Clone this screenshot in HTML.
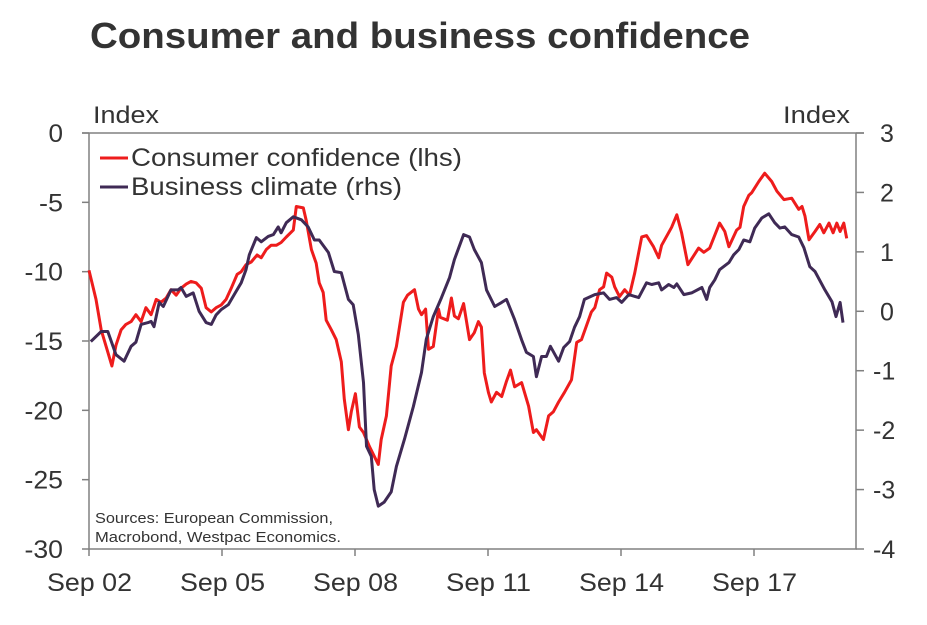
<!DOCTYPE html>
<html><head><meta charset="utf-8"><style>
body{margin:0;background:#fff;}
svg{display:block;font-family:"Liberation Sans",Arial,sans-serif;}
</style></head><body>
<svg id="chart" width="927" height="625" viewBox="0 0 927 625">
<text x="90" y="48" font-size="36" font-weight="bold" fill="#333" textLength="660" lengthAdjust="spacingAndGlyphs">Consumer and business confidence</text>
<text x="93" y="123" font-size="24" fill="#333" textLength="66" lengthAdjust="spacingAndGlyphs">Index</text>
<text x="783" y="123" font-size="24" fill="#333" textLength="67" lengthAdjust="spacingAndGlyphs">Index</text>
<g id="axes"></g>
<g id="series"></g>
<g>
<line x1="100" y1="158" x2="128" y2="158" stroke="#ee1c1c" stroke-width="3"/>
<text x="131" y="166" font-size="25" fill="#333" textLength="331" lengthAdjust="spacingAndGlyphs">Consumer confidence (lhs)</text>
<line x1="100" y1="187" x2="128" y2="187" stroke="#3f2a55" stroke-width="3"/>
<text x="131" y="195" font-size="25" fill="#333" textLength="271" lengthAdjust="spacingAndGlyphs">Business climate (rhs)</text>
</g>
<text font-size="15" fill="#333"><tspan x="95" y="523" textLength="238" lengthAdjust="spacingAndGlyphs">Sources: European Commission,</tspan><tspan x="95" y="542" textLength="246" lengthAdjust="spacingAndGlyphs">Macrobond, Westpac Economics.</tspan></text>
</svg>
<script>
// months since Sep 2002
const consumerMonths=[0,1.9,3.3,5.1,6.2,7.3,8.7,10,11.4,12.7,14.1,15.4,16.8,18.2,19.5,20.9,22.2,23.6,24.9,26.3,27.6,29,30.4,31.7,33.1,34.4,35.8,37.1,38.5,40.1,41.2,42.5,43.9,45.5,46.6,48,49.3,50.7,52,53.4,55.3,56.1,58,58.8,60.2,61.5,62.3,63.4,64.2,65.6,66.9,68.3,69.1,70.2,71,72.1,73.2,74.3,75.9,78.3,79.1,80.5,81.8,83.2,85.1,86.2,88.1,89.2,90,91.1,91.9,93.2,94.6,95.1,97,98.1,98.9,100,101.4,103,104.3,105.4,106.2,107,108.1,108.9,110.3,111.7,113,114.1,115.2,117.1,119,120.3,121.1,123,124.4,125.7,127.1,128.7,130.6,132,133.3,136,136.9,138.2,139.3,140.1,141.5,142.3,143.6,145,146.3,147.7,149.6,150.9,152.8,154.2,155,157.7,159.1,160.4,162.1,165,166.4,168,170.7,172.1,173.2,175.3,176.2,177.2,178.6,179.4,181.3,182.9,184.8,186.2,188.1,190.2,192.1,193,193.8,194.9,196.5,197.8,198.9,200.3,201.4,202.4,203.3,204.3,205.1];
const consumerValues=[-9.9,-12,-14.2,-15.8,-16.8,-15.3,-14.2,-13.8,-13.6,-13.1,-13.6,-12.6,-13.1,-12,-12.2,-11.9,-11.3,-11.7,-11.2,-10.9,-10.7,-10.8,-11.2,-12.6,-12.9,-12.6,-12.4,-12,-11.2,-10.2,-10,-9.5,-9.3,-8.8,-9,-8.4,-8.1,-8.1,-7.9,-7.5,-7,-5.3,-5.4,-6.3,-8.4,-9.4,-10.8,-11.5,-13.5,-14.2,-14.9,-16.5,-19.2,-21.4,-20.1,-18.8,-21.2,-21.6,-22.6,-23.9,-22.1,-20.4,-16.8,-15.4,-12.2,-11.7,-11.3,-12.7,-13.1,-12.7,-15.6,-15.4,-12.7,-13.3,-13.5,-11.9,-13.2,-13.4,-12.3,-14.9,-14.4,-13.6,-14,-17.3,-18.7,-19.4,-18.7,-19,-17.9,-17.1,-18.3,-18,-19.7,-21.6,-21.4,-22.1,-20.4,-20.1,-19.4,-18.7,-17.8,-15.1,-14.9,-12.9,-12.6,-11.3,-11.1,-10.1,-10.4,-11.1,-11.8,-11.3,-11.7,-10.1,-7.5,-7.4,-8.2,-9,-8.1,-6.8,-5.9,-7.2,-9.5,-8.3,-8.6,-8.3,-6.5,-7.1,-8.2,-7,-6.8,-5.3,-4.5,-4.3,-3.5,-2.9,-3.5,-4.2,-4.8,-4.7,-5.5,-5.3,-6,-7.7,-7.1,-6.6,-7.2,-6.5,-7.2,-6.5,-7.1,-6.5,-7.6];
const businessMonths=[0.5,3.3,5.1,6.5,7.3,9.5,11.4,12.7,14.1,16,16.8,17.6,19,20.1,22.2,24.1,24.9,26.3,28.2,29.8,31.7,33.1,34.4,35.8,37.7,39.3,41.2,42.5,43.4,45.3,46.6,48.5,49.9,51.2,52,53.4,55.3,57.5,59.3,61,62.3,64.8,66.4,68.3,70.2,71.5,72.9,74.3,75.1,76.4,77.2,78.3,79.9,81.8,83.2,85.4,87.8,90,91.3,93.2,95.4,97.6,98.9,101.4,103,104.3,106.2,107.6,109.8,111.7,113,115.2,117.1,118.4,120.3,121.1,122.5,123.8,124.9,127.1,128.5,130.1,131.4,132.8,134.1,136.9,139.3,140.9,142.8,144.2,146.1,148.8,150.9,152.3,154.2,155,156.9,158.3,159.1,161,163.1,165.9,167.2,168,169.4,170.7,173.2,174.5,175.9,177.2,178.9,180.2,182.1,184,185.6,187,188.3,190.2,192.1,193.5,195.1,196.5,199.2,201.1,202.2,203.3,204.1];
const businessValues=[-0.51,-0.34,-0.34,-0.59,-0.73,-0.84,-0.59,-0.52,-0.22,-0.19,-0.17,-0.26,0.15,0.08,0.36,0.36,0.4,0.25,0.31,0,-0.19,-0.22,-0.06,0.03,0.11,0.28,0.48,0.7,0.95,1.24,1.17,1.26,1.29,1.42,1.32,1.49,1.59,1.54,1.42,1.2,1.2,0.99,0.67,0.65,0.2,0.11,-0.39,-1.2,-2.27,-2.44,-3,-3.28,-3.21,-3.04,-2.61,-2.15,-1.6,-1.03,-0.47,-0.09,0.23,0.57,0.87,1.29,1.25,1.04,0.82,0.36,0.08,0.15,0.2,-0.14,-0.48,-0.69,-0.76,-1.1,-0.76,-0.76,-0.59,-0.84,-0.61,-0.51,-0.27,-0.09,0.2,0.28,0.31,0.2,0.23,0.15,0.28,0.23,0.48,0.45,0.48,0.36,0.45,0.4,0.46,0.28,0.31,0.4,0.2,0.4,0.53,0.7,0.82,0.95,1.04,1.2,1.17,1.4,1.57,1.64,1.49,1.4,1.42,1.29,1.25,1.07,0.75,0.67,0.36,0.16,-0.09,0.15,-0.19];
const leftTicks=[0,-5,-10,-15,-20,-25,-30];
const rightTicks=[3,2,1,0,-1,-2,-3,-4];
const xTickLabels=["Sep 02","Sep 05","Sep 08","Sep 11","Sep 14","Sep 17"];
const xTickMonths=[0,36,72,108,144,180];

const L=89,R=856,T=133,B=549;
const xS=m=>L+m*(133/36);
const yL=v=>T+(0-v)/30*(B-T);
const yR=v=>T+(3-v)/7*(B-T);
const NS='http://www.w3.org/2000/svg';
function mk(tag,attrs,parent,txt){const e=document.createElementNS(NS,tag);for(const k in attrs)e.setAttribute(k,attrs[k]);if(txt!==undefined)e.textContent=txt;parent.appendChild(e);return e;}
const ax=document.getElementById('axes');
const frame=mk('path',{d:`M${L-7},${T}H${R+8}M${L},${T}V${B}H${R}V${T}`,fill:'none',stroke:'#808080','stroke-width':1.5},ax);


leftTicks.forEach(v=>{const y=yL(v);
 const t=mk('line',{x1:L-7,x2:L,y1:y,y2:y,stroke:'#808080','stroke-width':1.5},ax);
 
 
 const s=String(v);
 const lb=mk('text',{x:63,y:y+9,'font-size':25,fill:'#333','text-anchor':'end',textLength:s.length*14.5+(v<0?-5:0),lengthAdjust:'spacingAndGlyphs'},ax,s);
 
 });
rightTicks.forEach(v=>{const y=yR(v);
 const t=mk('line',{x1:R,x2:R+8,y1:y,y2:y,stroke:'#808080','stroke-width':1.5},ax);
 
 
 const lb=mk('text',{x:v<0?873:880,y:y+9,'font-size':25,fill:'#333'},ax,String(v));
 
 });
xTickMonths.forEach((m,i)=>{const x=xS(m);
 const t=mk('line',{x1:x,x2:x,y1:B,y2:B+7,stroke:'#808080','stroke-width':1.5},ax);
 
 
 const lb=mk('text',{x:x-42,y:591,'font-size':25,fill:'#333',textLength:85,lengthAdjust:'spacingAndGlyphs'},ax,xTickLabels[i]);
 
 });
const sg=document.getElementById('series');
const pc=consumerMonths.map((m,i)=>xS(m).toFixed(1)+','+yL(consumerValues[i]).toFixed(1)).join(' ');
const pb=businessMonths.map((m,i)=>xS(m).toFixed(1)+','+yR(businessValues[i]).toFixed(1)).join(' ');
const lc=mk('polyline',{points:pc,fill:'none',stroke:'#ee1c1c','stroke-width':3,'stroke-linejoin':'round'},sg);


const lbz=mk('polyline',{points:pb,fill:'none',stroke:'#3f2a55','stroke-width':3,'stroke-linejoin':'round'},sg);


</script>
</body></html>
